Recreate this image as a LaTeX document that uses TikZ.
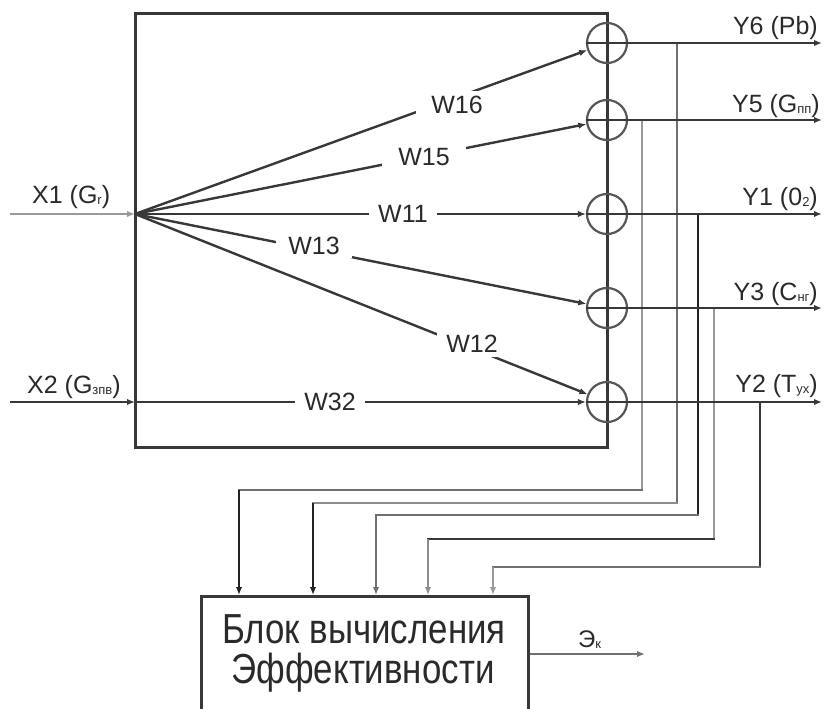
\documentclass[tikz,border=0pt]{standalone}
\usepackage{fontspec}
\setmainfont{Liberation Sans}
\usetikzlibrary{arrows.meta}
\definecolor{dk}{HTML}{383838}
\definecolor{bk}{HTML}{222222}
\definecolor{md}{HTML}{707070}
\definecolor{lt}{HTML}{9A9A9A}
\definecolor{txt}{HTML}{2A2A2A}
\newcommand\mysub[1]{\raisebox{-1pt}{\fontsize{13}{13}\selectfont #1}}

\begin{document}

\begin{tikzpicture}[x=1pt,y=-1pt,
  ln/.style={line width=2.4pt, draw=dk},
  arr/.style={-{Latex[length=8pt,width=6.5pt]}},
  lab/.style={font=\fontsize{25}{25}\selectfont, text=txt, inner sep=0pt},
  wlab/.style={lab, fill=white, inner xsep=9pt, inner ysep=3pt},
  sumc/.style={circle, draw=dk!85, line width=2.2pt, minimum size=40pt, inner sep=0pt},
  blk/.style={draw=dk, line width=3pt, minimum width=327pt, minimum height=120pt, anchor=north west, inner sep=0pt}]
\useasboundingbox (0,0) rectangle (825,709);
\clip (0,0) rectangle (825,709);
% main box
\draw[line width=3pt, draw=dk] (135,447) -- (135,14) -- (607,14) -- (607,447) -- cycle;
% summing junctions
\node[sumc] (s6) at (607,43) {};
\node[sumc] (s5) at (607,120) {};
\node[sumc] (s1) at (607,214) {};
\node[sumc] (s3) at (607,308) {};
\node[sumc] (s2) at (607,402) {};
% inputs
\coordinate (x1s) at (10,214);
\coordinate (x2s) at (10,402);
\coordinate (hub) at (135,214);
\coordinate (hub2) at (135,402);
\draw[ln, draw=lt, arr] (x1s) -- (hub);
\draw[ln, arr] (x2s) -- (hub2);
\node[lab, anchor=base west] (lx1) at (32,203) {X1 (G\mysub{r})};
\node[lab, anchor=base west] (lx2) at (27,393) {X2 (G\mysub{зпв})};
% fan
\draw[ln, arr] (hub) -- (s6);
\draw[ln, arr] (hub) -- (s5);
\draw[ln, arr] (hub) -- (s1);
\draw[ln, arr] (hub) -- (s3);
\draw[ln, arr] (hub) -- (s2);
\draw[ln, arr] (hub2) -- (s2);
\node[wlab, inner xsep=15pt, inner ysep=5pt] (w16) at (457,105) {W16};
\node[wlab, inner xsep=16pt] (w15) at (424,157) {W15};
\node[wlab] (w11) at (403,214) {W11};
\node[wlab, inner xsep=12pt] (w13) at (314,246) {W13};
\node[wlab, inner xsep=9pt, inner ysep=4pt] (w12) at (472,344) {W12};
\node[wlab] (w32) at (330,402) {W32};
% outputs
\coordinate (y6e) at (822,43);
\coordinate (y5e) at (822,120);
\coordinate (y1e) at (822,214);
\coordinate (y3e) at (822,308);
\coordinate (y2e) at (822,402);
% block
\node[blk] (blk) at (200,595) {};
% taps
\coordinate (a1) at (642,120); \coordinate (a2) at (642,490); \coordinate (a3) at (239,490); \coordinate (a4) at (239,595);
\coordinate (b1) at (677,43);  \coordinate (b2) at (677,503); \coordinate (b3) at (313,503); \coordinate (b4) at (313,595);
\coordinate (c1) at (698,214); \coordinate (c2) at (698,515); \coordinate (c3) at (376,515); \coordinate (c4) at (376,595);
\coordinate (d1) at (714,308); \coordinate (d2) at (714,539); \coordinate (d3) at (428,539); \coordinate (d4) at (428,595);
\coordinate (e1) at (760,402); \coordinate (e2) at (760,567); \coordinate (e3) at (493,567); \coordinate (e4) at (493,595);
\draw[ln, draw=lt, line cap=rect] (a1) -- (a2);
\draw[ln, draw=md, line cap=rect] (a2) -- (a3);
\draw[ln, draw=bk, arr] (a3) -- (a4);
\draw[ln, draw=md, line cap=rect] (b1) -- (b2);
\draw[ln, draw=md!80, line cap=rect] (b2) -- (b3);
\draw[ln, draw=bk, arr] (b3) -- (b4);
\draw[ln, draw=bk, line cap=rect] (c1) -- (c2);
\draw[ln, draw=md, line cap=rect] (c2) -- (c3);
\draw[ln, draw=md, arr] (c3) -- (c4);
\draw[ln, draw=lt, line cap=rect] (d1) -- (d2);
\draw[ln, draw=dk, line cap=rect] (d2) -- (d3);
\draw[ln, draw=md!80, arr] (d3) -- (d4);
\draw[ln, draw=dk, line cap=rect] (e1) -- (e2);
\draw[ln, draw=md, line cap=rect] (e2) -- (e3);
\draw[ln, draw=lt, arr] (e3) -- (e4);
% output lines
\draw[ln, arr] (s6.west) -- (y6e);
\draw[ln, arr] (s5.west) -- (y5e);
\draw[ln, arr] (s1.west) -- (y1e);
\draw[ln, arr] (s3.west) -- (y3e);
\draw[ln, arr] (s2.west) -- (y2e);
\node[lab, anchor=base east] (ly6) at (818,35) {Y6 (Pb)};
\node[lab, anchor=base east] (ly5) at (820,113) {Y5 (G\mysub{пп})};
\node[lab, anchor=base east] (ly1) at (818,205) {Y1 (0\mysub{2})};
\node[lab, anchor=base east] (ly3) at (818,300) {Y3 (C\mysub{нг})};
\node[lab, anchor=base east] (ly2) at (818,392) {Y2 (T\mysub{ух})};
% block text
\node[lab, font=\fontsize{42}{42}\selectfont, xscale=0.83, anchor=base] (bt1) at (364,643) {Блок вычисления};
\node[lab, font=\fontsize{42}{42}\selectfont, xscale=0.83, anchor=base] (bt2) at (363,683) {Эффективности};
\coordinate (ek) at (645,654);
\draw[ln, draw=md, arr] (blk.east |- ek) -- (ek);
\node[lab, font=\fontsize{24}{24}\selectfont, anchor=base west] (lek) at (578,647) {Э\mysub{к}};
\end{tikzpicture}

\end{document}
